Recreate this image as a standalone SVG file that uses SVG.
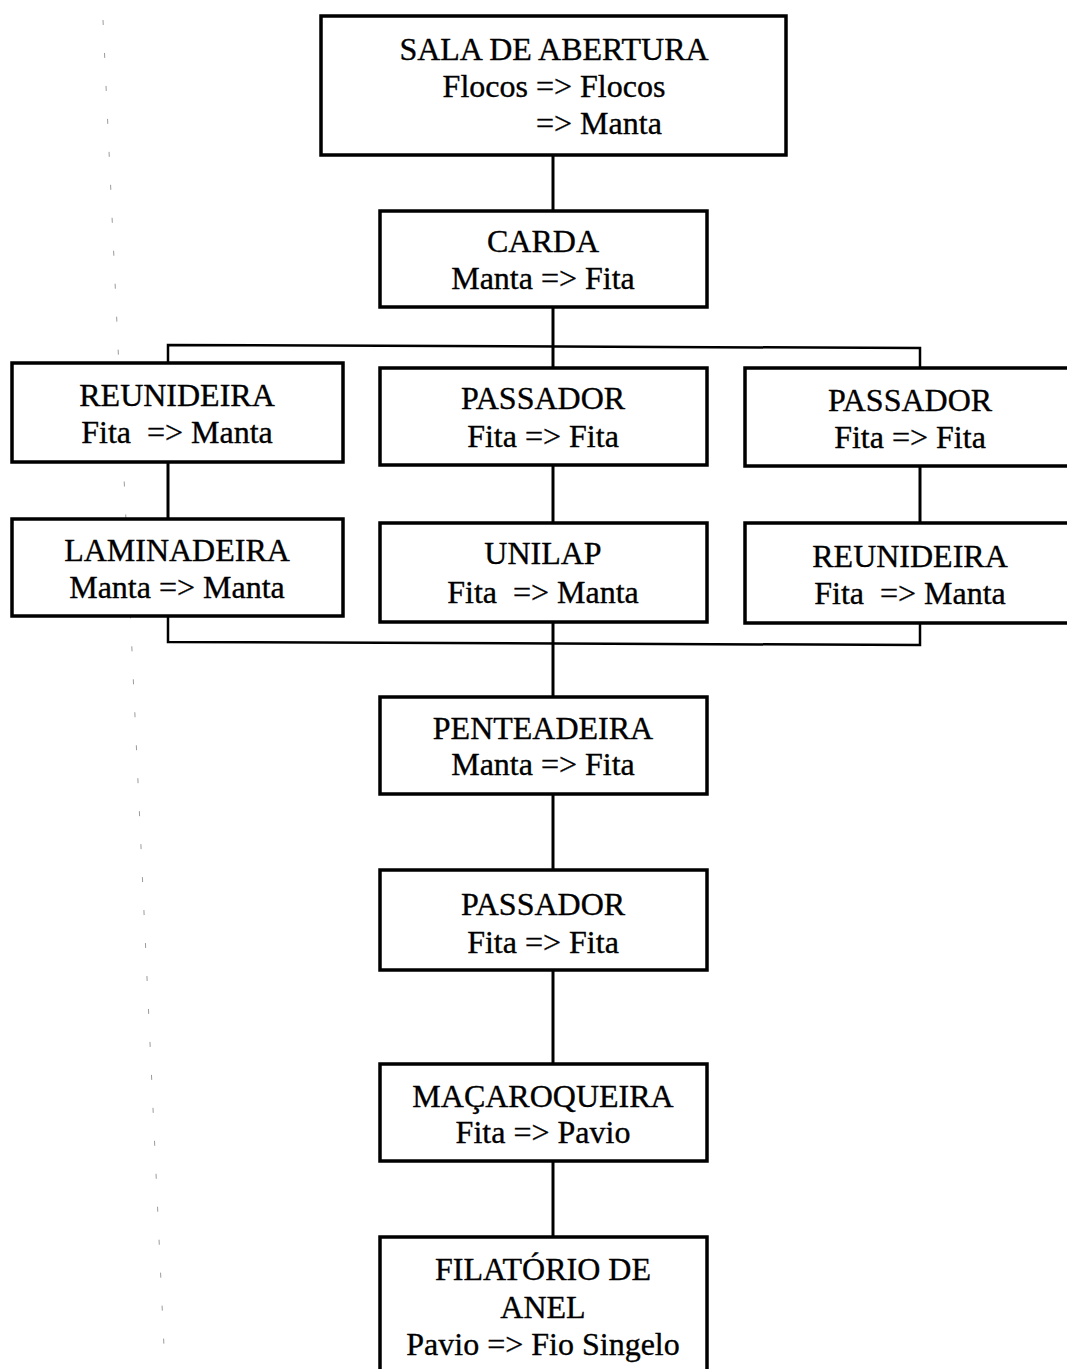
<svg xmlns="http://www.w3.org/2000/svg" width="1067" height="1369" viewBox="0 0 1067 1369">
  <style>
    .box { fill: #ffffff; stroke: #000000; stroke-width: 3.5; }
    .wire { fill: none; stroke: #000000; stroke-width: 3; }
    .bus { fill: none; stroke: #000000; stroke-width: 2.5; }
    .lbl { font-family: "Liberation Serif", "Times New Roman", serif; font-size: 32px; fill: #000000; stroke: #000000; stroke-width: 0.35; text-anchor: middle; white-space: pre; }
    .lbl-start { text-anchor: start; }
    .ghost { fill: none; stroke: #7a7a7a; stroke-width: 1; stroke-dasharray: 5 28; opacity: 0.75; }
  </style>
  <rect x="0" y="0" width="1067" height="1369" fill="#ffffff"/>

  <!-- faint guide line down the left margin -->
  <line class="ghost" x1="103" y1="20" x2="165" y2="1369"/>

  <g id="connectors">
    <!-- main trunk -->
    <line class="wire" x1="553" y1="155" x2="553" y2="368"/>
    <line class="wire" x1="553" y1="465" x2="553" y2="523"/>
    <line class="wire" x1="553" y1="622" x2="553" y2="697"/>
    <line class="wire" x1="553" y1="794" x2="553" y2="870"/>
    <line class="wire" x1="553" y1="970" x2="553" y2="1064"/>
    <line class="wire" x1="553" y1="1161" x2="553" y2="1237"/>
    <!-- split bus above the parallel branches -->
    <polyline class="bus" points="168,363 168,345 920,348 920,368"/>
    <!-- join bus below the parallel branches -->
    <polyline class="bus" points="168,616 168,642 920,645 920,623"/>
    <!-- branch links -->
    <line class="wire" x1="168" y1="462" x2="168" y2="519"/>
    <line class="wire" x1="920" y1="466" x2="920" y2="523"/>
  </g>

  <g id="sala-abertura">
    <rect class="box" x="321" y="16" width="465" height="139"/>
    <text class="lbl" x="554" y="60">SALA DE ABERTURA</text>
    <text class="lbl" x="554" y="97">Flocos =&gt; Flocos</text>
    <text class="lbl lbl-start" x="536" y="134">=&gt; Manta</text>
  </g>

  <g id="carda">
    <rect class="box" x="380" y="211" width="327" height="96"/>
    <text class="lbl" x="543" y="252">CARDA</text>
    <text class="lbl" x="543" y="289">Manta =&gt; Fita</text>
  </g>

  <g id="reunideira-1">
    <rect class="box" x="12" y="363" width="331" height="99"/>
    <text class="lbl" x="177" y="406">REUNIDEIRA</text>
    <text class="lbl" x="177" y="443">Fita  =&gt; Manta</text>
  </g>

  <g id="passador-1">
    <rect class="box" x="380" y="368" width="327" height="97"/>
    <text class="lbl" x="543" y="409">PASSADOR</text>
    <text class="lbl" x="543" y="447">Fita =&gt; Fita</text>
  </g>

  <g id="passador-2">
    <rect class="box" x="745" y="368" width="340" height="98"/>
    <text class="lbl" x="910" y="411">PASSADOR</text>
    <text class="lbl" x="910" y="448">Fita =&gt; Fita</text>
  </g>

  <g id="laminadeira">
    <rect class="box" x="12" y="519" width="331" height="97"/>
    <text class="lbl" x="177" y="561">LAMINADEIRA</text>
    <text class="lbl" x="177" y="598">Manta =&gt; Manta</text>
  </g>

  <g id="unilap">
    <rect class="box" x="380" y="523" width="327" height="99"/>
    <text class="lbl" x="543" y="564">UNILAP</text>
    <text class="lbl" x="543" y="603">Fita  =&gt; Manta</text>
  </g>

  <g id="reunideira-2">
    <rect class="box" x="745" y="523" width="340" height="100"/>
    <text class="lbl" x="910" y="567">REUNIDEIRA</text>
    <text class="lbl" x="910" y="604">Fita  =&gt; Manta</text>
  </g>

  <g id="penteadeira">
    <rect class="box" x="380" y="697" width="327" height="97"/>
    <text class="lbl" x="543" y="739">PENTEADEIRA</text>
    <text class="lbl" x="543" y="775">Manta =&gt; Fita</text>
  </g>

  <g id="passador-3">
    <rect class="box" x="380" y="870" width="327" height="100"/>
    <text class="lbl" x="543" y="915">PASSADOR</text>
    <text class="lbl" x="543" y="953">Fita =&gt; Fita</text>
  </g>

  <g id="macaroqueira">
    <rect class="box" x="380" y="1064" width="327" height="97"/>
    <text class="lbl" x="543" y="1107">MAÇAROQUEIRA</text>
    <text class="lbl" x="543" y="1143">Fita =&gt; Pavio</text>
  </g>

  <g id="filatorio-anel">
    <rect class="box" x="380" y="1237" width="327" height="160"/>
    <text class="lbl" x="543" y="1280">FILATÓRIO DE</text>
    <text class="lbl" x="543" y="1318">ANEL</text>
    <text class="lbl" x="543" y="1355">Pavio =&gt; Fio Singelo</text>
  </g>
</svg>
